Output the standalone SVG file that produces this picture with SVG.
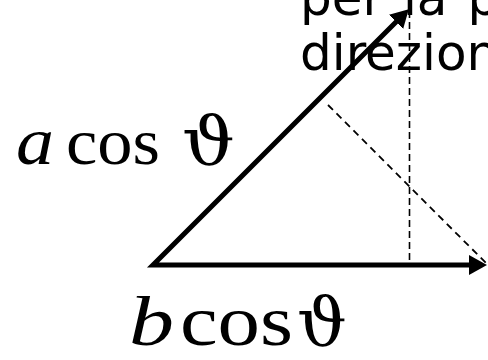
<svg xmlns="http://www.w3.org/2000/svg" width="488" height="360" viewBox="0 0 488 360">
<style>
.vec{fill:none;stroke:#000;stroke-width:5;stroke-linejoin:miter;stroke-miterlimit:10}
.proj{fill:none;stroke:#000;stroke-width:1.6}
.dot{stroke-dasharray:7 4}
.dash{stroke-dasharray:7 5;stroke-width:1.8}
.hand{font-family:"DejaVu Sans","Open Sans",sans-serif;font-size:50px;fill:#000}
.m{font-family:"Liberation Serif","Times New Roman",serif;fill:#000}
.mi{font-style:italic}
.th{font-family:"DejaVu Serif","Liberation Serif",serif;fill:#000}
</style>
<defs>
<marker id="ah" viewBox="0 0 18 20" refX="7" refY="10" markerWidth="18" markerHeight="20" markerUnits="userSpaceOnUse" orient="auto-start-reverse">
<path d="M0,0 L18,10 L0,20 z" fill="#000"/>
</marker>
</defs>
<rect width="488" height="360" fill="#fff"/>
<g id="connectors">
<path id="proj-vertical" class="proj dot" d="M409.5,0 L409.5,265"/>
<path id="proj-perp" class="proj dash" d="M328,105 L487,264"/>
<path id="vectors" class="vec" d="M401,17 L153,265 L476,265" marker-start="url(#ah)" marker-end="url(#ah)"/>
</g>
<g id="label-top">
<text class="hand" x="300" y="15" word-spacing="4">per la p</text>
<text class="hand" x="300" y="70">direzion</text>
</g>
<g id="label-a">
<text class="m mi" x="16" y="164" font-size="68" textLength="38" lengthAdjust="spacingAndGlyphs">a</text>
<text class="m" x="66" y="164" font-size="66" textLength="94" lengthAdjust="spacingAndGlyphs">cos</text>
<text class="th" x="182" y="164" font-size="68" textLength="53" lengthAdjust="spacingAndGlyphs">ϑ</text>
</g>
<g id="label-b">
<text class="m mi" x="129" y="345" font-size="70" textLength="45" lengthAdjust="spacingAndGlyphs">b</text>
<text class="m" x="180" y="345" font-size="72" textLength="113" lengthAdjust="spacingAndGlyphs">cos</text>
<text class="th" x="297" y="345" font-size="68" textLength="50" lengthAdjust="spacingAndGlyphs">ϑ</text>
</g>
</svg>
